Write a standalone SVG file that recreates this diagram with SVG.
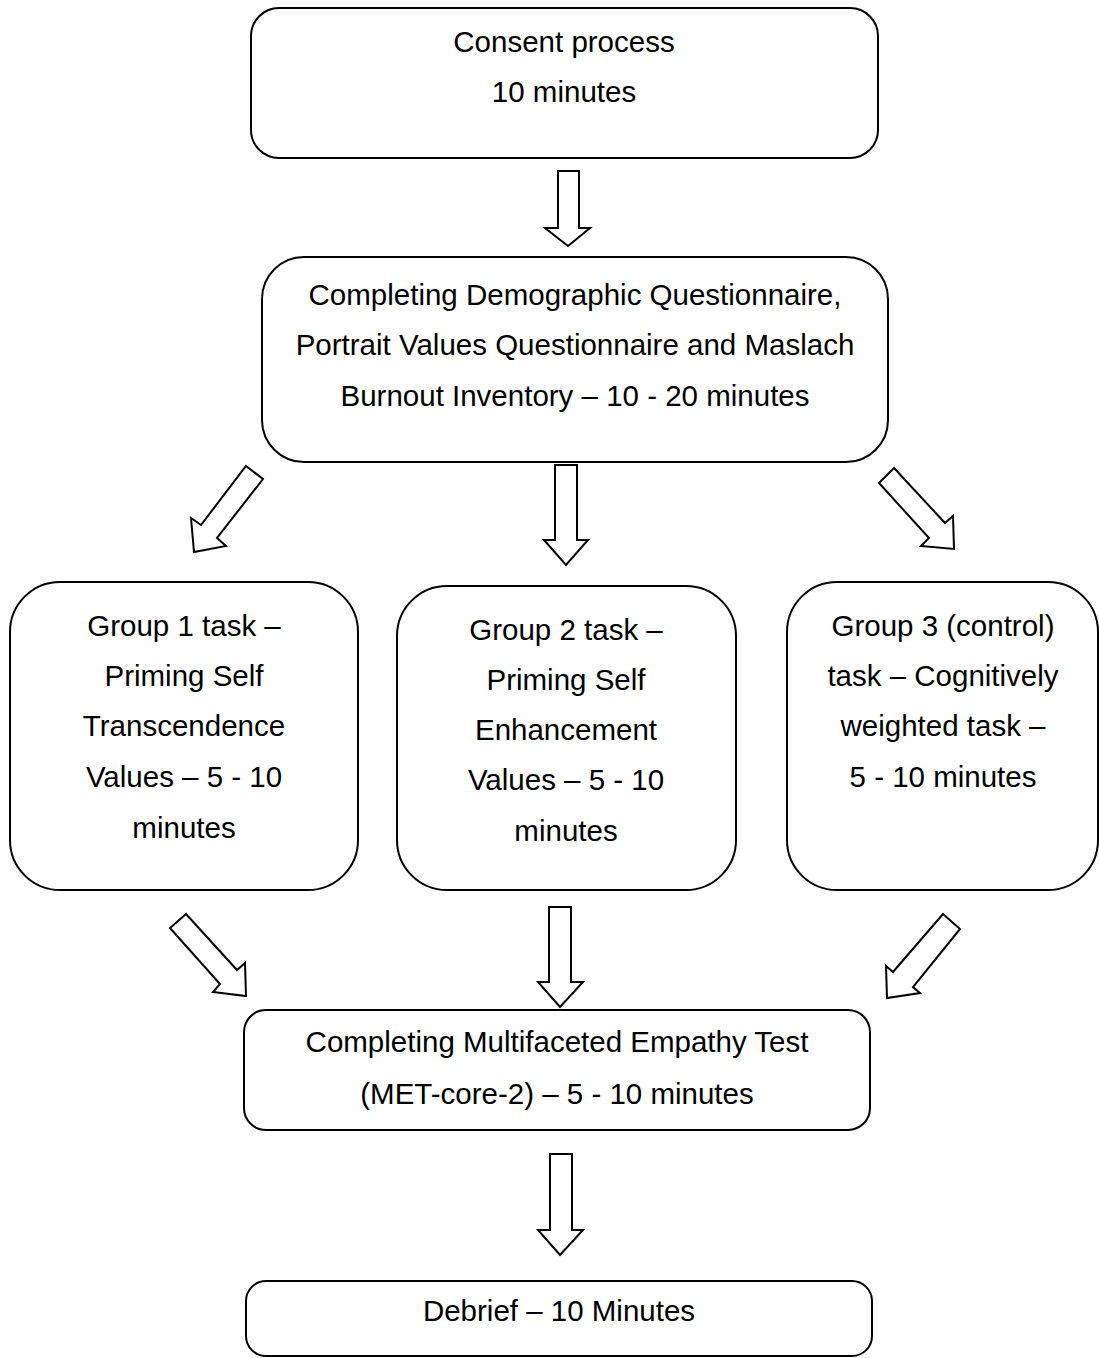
<svg xmlns="http://www.w3.org/2000/svg" width="1099" height="1358" viewBox="0 0 1099 1358">
<style>
.box{fill:#fff;stroke:#000;stroke-width:2}
.arr{fill:#fff;stroke:#000;stroke-width:2;stroke-linejoin:miter}
text{font-family:"Liberation Sans",Arial,sans-serif;font-size:29.5px;fill:#000;text-anchor:middle}
</style>
<rect width="1099" height="1358" fill="#fff"/>
<g id="connectors">
<polygon class="arr" points="558,171 579,171 579,228 590,228 568,246 545,228 558,228"/>
<polygon class="arr" points="246,466 263,479 217,538 226,546 194,552 191,518 201,525"/>
<polygon class="arr" points="555,465 577,465 577,540 588,540 566,565 544,540 555,540"/>
<polygon class="arr" points="894,468 879,483 929,538 921,546 954,549 953,516 945,523"/>
<polygon class="arr" points="186,914 170,928 220,984 213,992 246,996 245,963 237,970"/>
<polygon class="arr" points="549,907 571,907 571,982 583,982 560,1007 538,982 549,982"/>
<polygon class="arr" points="943,914 960,929 913,987 920,993 887,998 886,966 893,972"/>
<polygon class="arr" points="550,1154 572,1154 572,1230 583,1230 560,1255 538,1230 550,1230"/>
</g>
<g id="consent">
<rect class="box" x="251" y="8" width="627" height="150" rx="28"/>
<text x="564" y="52">Consent process</text>
<text x="564" y="102">10 minutes</text>
</g>
<g id="questionnaires">
<rect class="box" x="262" y="257" width="626" height="205" rx="42"/>
<text x="575" y="305">Completing Demographic Questionnaire,</text>
<text x="575" y="355">Portrait Values Questionnaire and Maslach</text>
<text x="575" y="406">Burnout Inventory – 10 - 20 minutes</text>
</g>
<g id="group1">
<rect class="box" x="10" y="582" width="348" height="308" rx="50"/>
<text x="184" y="636">Group 1 task –</text>
<text x="184" y="686">Priming Self</text>
<text x="184" y="736">Transcendence</text>
<text x="184" y="787">Values – 5 - 10</text>
<text x="184" y="838">minutes</text>
</g>
<g id="group2">
<rect class="box" x="397" y="586" width="339" height="304" rx="50"/>
<text x="566" y="640">Group 2 task –</text>
<text x="566" y="690">Priming Self</text>
<text x="566" y="740">Enhancement</text>
<text x="566" y="790">Values – 5 - 10</text>
<text x="566" y="841">minutes</text>
</g>
<g id="group3">
<rect class="box" x="787" y="582" width="311" height="308" rx="50"/>
<text x="943" y="636">Group 3 (control)</text>
<text x="943" y="686">task – Cognitively</text>
<text x="943" y="736">weighted task –</text>
<text x="943" y="787">5 - 10 minutes</text>
</g>
<g id="met">
<rect class="box" x="244" y="1010" width="626" height="120" rx="22"/>
<text x="557" y="1052">Completing Multifaceted Empathy Test</text>
<text x="557" y="1104">(MET-core-2) – 5 - 10 minutes</text>
</g>
<g id="debrief">
<rect class="box" x="246" y="1281" width="626" height="75" rx="20"/>
<text x="559" y="1321">Debrief – 10 Minutes</text>
</g>
</svg>
